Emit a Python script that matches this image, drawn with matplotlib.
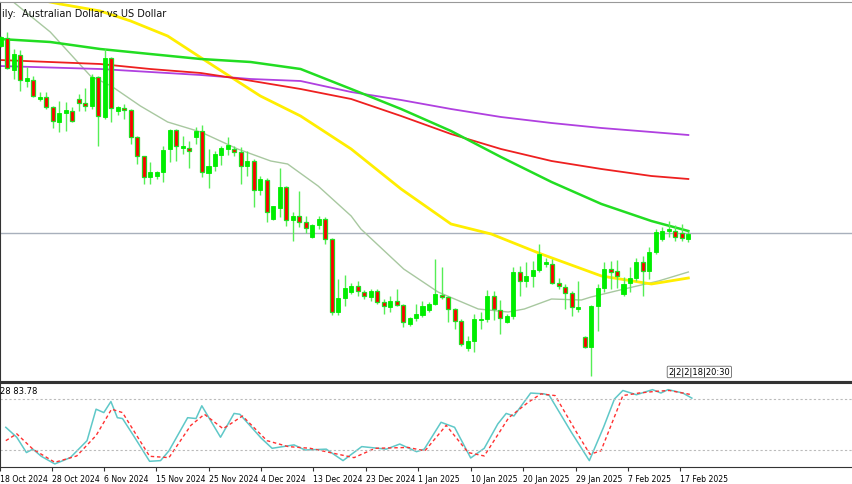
import matplotlib
matplotlib.use("Agg")
import matplotlib.pyplot as plt
import numpy as np

# OHLC in price*10000 (AUD/USD daily)
opens = [6746,6762,6698,6728,6676,6678,6640,6644,6624,6594,6612,6616,6640,6632,6626,6684,6604,6722,6616,6622,
         6618,6564,6526,6484,6486,6494,6540,6578,6542,6542,6564,6576,6492,6506,6528,6540,6540,6534,6506,6516,
         6458,6478,6400,6422,6464,6398,6406,6394,6364,6388,6400,6360,6214,6242,6254,6266,6254,6244,6256,6234,
         6224,6236,6228,6190,6202,6208,6218,6230,6248,6244,6220,6196,6142,6156,6198,6200,6246,6218,6194,6206,
         6294,6276,6286,6298,6310,6310,6272,6264,6252,6220,6164,6144,6226,6262,6300,6296,6250,6272,6282,6314,
         6296,6334,6360,6376,6376,6372,6360]
closes = [6764,6702,6730,6678,6682,6646,6644,6624,6596,6612,6618,6596,6632,6626,6684,6606,6722,6622,6624,6618,
          6564,6526,6484,6494,6494,6538,6578,6546,6546,6536,6576,6494,6506,6530,6542,6548,6534,6506,6516,6458,
          6480,6414,6426,6464,6398,6406,6394,6382,6388,6400,6360,6214,6242,6262,6266,6256,6246,6256,6234,6226,
          6236,6228,6194,6202,6210,6226,6230,6250,6244,6220,6196,6150,6156,6200,6200,6246,6220,6202,6206,6294,
          6276,6286,6298,6330,6314,6272,6266,6252,6224,6224,6144,6226,6262,6300,6294,6286,6270,6282,6314,6296,
          6334,6374,6376,6380,6364,6362,6370]
highs = [6766,6774,6740,6738,6704,6686,6654,6654,6626,6636,6634,6624,6650,6662,6690,6686,6740,6724,6626,6630,
         6620,6566,6526,6514,6496,6546,6580,6580,6566,6556,6584,6588,6540,6536,6546,6564,6546,6544,6536,6520,
         6486,6482,6426,6502,6466,6414,6456,6406,6390,6406,6404,6362,6280,6288,6272,6276,6258,6260,6260,6240,
         6246,6260,6230,6204,6230,6236,6234,6320,6304,6246,6222,6200,6166,6210,6214,6258,6256,6238,6210,6304,
         6306,6314,6316,6350,6322,6320,6282,6270,6256,6276,6166,6228,6270,6314,6316,6318,6284,6304,6322,6326,
         6344,6380,6384,6396,6388,6390,6376]
lows = [6744,6700,6680,6656,6664,6644,6636,6620,6582,6574,6576,6594,6616,6616,6620,6546,6600,6594,6608,6600,
        6550,6510,6470,6470,6480,6474,6514,6516,6530,6502,6550,6484,6462,6496,6508,6528,6526,6470,6486,6424,
        6448,6394,6398,6404,6386,6356,6384,6372,6362,6380,6350,6208,6208,6226,6250,6246,6240,6236,6230,6210,
        6214,6226,6184,6186,6196,6204,6214,6228,6240,6194,6180,6146,6136,6134,6180,6194,6198,6170,6192,6200,
        6246,6264,6264,6294,6304,6270,6260,6220,6206,6214,6142,6086,6176,6254,6260,6262,6246,6254,6276,6246,
        6280,6330,6356,6364,6356,6356,6354]

# moving averages (candle index, price*10000)
ma_green_x = [-0.2,7.6,15.3,23.0,30.8,38.5,46.2,54.0,61.7,69.4,77.1,84.9,92.6,100.3,106.0]
ma_green_y = [6760,6754,6740,6730,6720,6714,6700,6660,6620,6576,6524,6474,6430,6396,6376]
ma_red_x = [-0.2,15.3,23.0,30.8,36.9,46.2,54.0,61.7,69.4,77.1,84.9,92.6,100.3,106.0]
ma_red_y = [6718,6710,6700,6692,6680,6660,6640,6606,6570,6540,6516,6500,6486,6480]
ma_purple_x = [-0.2,15.3,30.8,38.5,46.2,54.0,61.7,69.4,77.1,84.9,92.6,100.3,106.0]
ma_purple_y = [6706,6700,6688,6680,6676,6654,6638,6620,6604,6592,6582,6574,6568]
ma_yellow_x = [5.3,9.1,15.3,20.0,25.7,32.8,40.0,46.2,54.0,61.7,69.4,75.6,83.3,92.6,100.3,106.0]
ma_yellow_y = [6840,6830,6816,6796,6766,6706,6646,6606,6540,6460,6390,6370,6330,6286,6270,6282]
ma_grey_x = [1.9,7.6,13.8,17.0,21.5,25.7,30.8,36.5,41.6,44.2,48.9,54.0,55.5,62.1,67.4,73.6,78.2,80.7,84.9,89.5,91.0,96.1,101.4,106.0]
ma_grey_y = [6834,6774,6686,6666,6626,6594,6574,6540,6516,6510,6466,6406,6380,6300,6254,6220,6214,6220,6240,6238,6244,6260,6276,6294]
last_price = 6372

# stochastic
stoch_k_x = [0,1.7,3.2,4.2,5.5,7.6,10,12.6,14,15.2,16.3,17.3,18.1,19.8,22.3,24,25.3,28.2,29.5,30.4,33.3,35.4,36.3,39.6,41.3,
             44.7,46.4,49.7,52.3,55.2,59,61.1,63.7,64.9,67.5,69.6,72.1,74.2,76.3,77.6,78.8,81.4,83.5,84.3,87.7,90.5,92.7,
             94.4,95.7,97.8,100.3,101.6,102.7,105,106.4]
stoch_k_y = [46.7,35,17,21,12.6,3.6,11,31,68,64,77,58,57,37,6.7,7.5,19,58,57,72,35,63,62,34,22,
             26,20,21,7.5,24,21,27,18,21,52.6,46.7,10.6,22,50.6,63,60,87,86,84,41,7.5,46.7,
             80,90,85,91,87,91,87,81]
stoch_d_x = [0,1.7,4.2,7.6,11,14,16.4,18.1,22.3,25.3,28.7,30.8,33.7,36.7,40.5,43.8,47.2,54,57.3,62.4,65,68.3,71.7,74.2,
             78,81,83,85.2,88.5,90.6,92.3,95.7,98.2,100.8,102.9,106.4]
stoch_d_y = [31,39,21,5.5,13,37,68,64,12.6,11,49,62,45,60,31,24,22,11,22,23,19,49,17,13,
             58,76,86,84,41,15,19,84,87,89,90,85]

date_pos = [-0.9,7.1,15.3,23.3,31.5,39.6,47.7,55.9,64.0,72.1,80.2,88.4,96.5,104.6]
date_labels = ["18 Oct 2024","28 Oct 2024","6 Nov 2024","15 Nov 2024","25 Nov 2024","4 Dec 2024","13 Dec 2024",
               "23 Dec 2024","1 Jan 2025","10 Jan 2025","20 Jan 2025","29 Jan 2025","7 Feb 2025","17 Feb 2025"]

W, H = 852, 485
fig = plt.figure(figsize=(W/100, H/100), dpi=100)
fig.patch.set_facecolor("white")
xl = (-0.155, 131.5)
ax = fig.add_axes([0, 1-382/H, 1.002, (382-3)/H])
ax2 = fig.add_axes([0, 1-468/H, 1.002, (468-384)/H])

o = np.array(opens)/1e4; c = np.array(closes)/1e4
h = np.array(highs)/1e4; l = np.array(lows)/1e4
idx = np.arange(len(o))
GREEN = "#00ee00"
ax.vlines(idx, l, h, color="#55ee55", lw=1.0, zorder=3)
bull = c >= o
ax.bar(idx[bull], (c-o)[bull], bottom=o[bull], width=0.62, color=GREEN, edgecolor=GREEN, lw=0.6, zorder=4)
ax.bar(idx[~bull], (o-c)[~bull], bottom=c[~bull], width=0.62, color="#ff0000", edgecolor="#22dd22", lw=0.9, zorder=4)

ax.plot(ma_grey_x, np.array(ma_grey_y)/1e4, color="#a8c8a0", lw=1.0, zorder=2)
ax.plot(ma_yellow_x, np.array(ma_yellow_y)/1e4, color="#ffee00", lw=2.0, zorder=2)
ax.plot(ma_purple_x, np.array(ma_purple_y)/1e4, color="#b040e0", lw=1.3, zorder=2)
ax.plot(ma_red_x, np.array(ma_red_y)/1e4, color="#ee2020", lw=1.3, zorder=2)
ax.plot(ma_green_x, np.array(ma_green_y)/1e4, color="#22dd22", lw=1.8, zorder=2)
ax.axhline(last_price/1e4, color="#a8b0bc", lw=1.0, zorder=1)

ax.set_xlim(*xl); ax.set_ylim(0.6076, 0.6834)
ax.set_xticks([]); ax.set_yticks([])
for s in ax.spines.values():
    s.set_color("#333333")
ax.spines["top"].set_color("#999999")
ax.text(0.002, 0.985, "ily:  Australian Dollar vs US Dollar", transform=ax.transAxes, fontsize=7, va="top", ha="left", color="#111111")
ax.text(0.783, 0.012, "2|2|2|18|20:30", transform=ax.transAxes, fontsize=6, va="bottom", ha="left",
        bbox=dict(boxstyle="round,pad=0.15", fc="white", ec="#666666", lw=0.6))

ax2.plot(stoch_k_x, stoch_k_y, color="#5fc8c8", lw=1.1)
ax2.plot(stoch_d_x, stoch_d_y, color="#ff3030", lw=1.0, ls=(0, (2.5, 2)))
ax2.axhline(80, color="#bbbbbb", lw=0.8, ls=(0, (2, 2)))
ax2.axhline(20, color="#bbbbbb", lw=0.8, ls=(0, (2, 2)))
ax2.set_xlim(*xl); ax2.set_ylim(0, 98.8)
ax2.set_yticks([])
ax2.set_xticks(date_pos)
ax2.set_xticklabels(date_labels, fontsize=5.6, ha="left")
ax2.tick_params(axis="x", length=3, pad=2, color="#333333")
for s in ax2.spines.values():
    s.set_color("#333333")
ax2.spines["top"].set_linewidth(1.5)
ax2.text(0.0, 0.97, "28 83.78", transform=ax2.transAxes, fontsize=6, va="top", ha="left")

fig.savefig("out.png", dpi=100)
